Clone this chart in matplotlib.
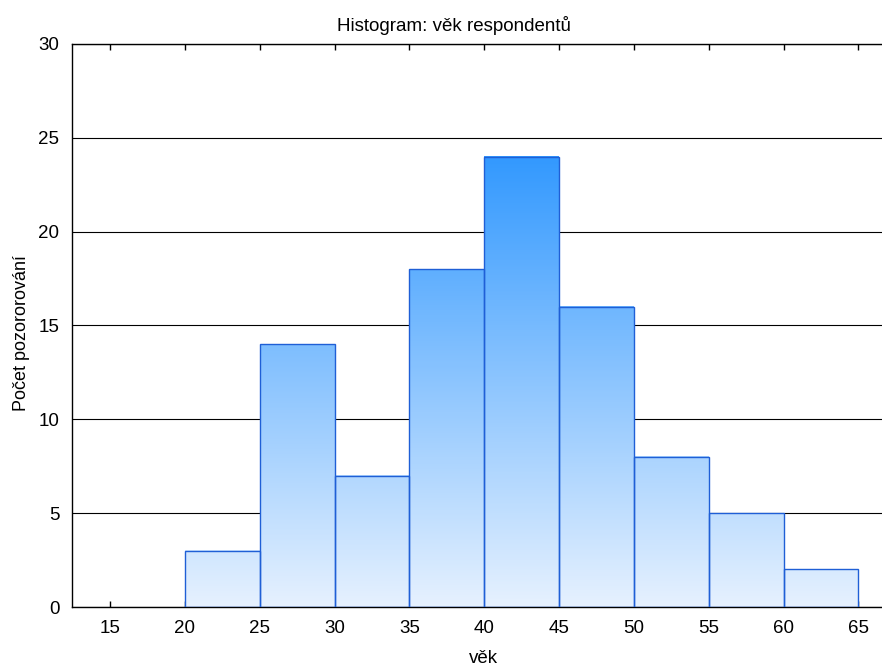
import numpy as np
import matplotlib
matplotlib.use('Agg')
import matplotlib.pyplot as plt
from matplotlib.colors import LinearSegmentedColormap

plt.rcParams['font.family'] = ['Liberation Sans', 'DejaVu Sans']

# histogram data: bin edges and counts
bin_edges = [20, 25, 30, 35, 40, 45, 50, 55, 60, 65]
counts = [3, 14, 7, 18, 24, 16, 8, 5, 2]
xticks = [15, 20, 25, 30, 35, 40, 45, 50, 55, 60, 65]
yticks = [0, 5, 10, 15, 20, 25, 30]

fig = plt.figure(figsize=(8.82, 6.68), dpi=100)
ax = fig.add_axes([0.0816, 0.0913, 0.918, 0.843])

cmap = LinearSegmentedColormap.from_list('blues', ['#e6f1fe', '#3399ff'])
top = max(counts)

for left, right, c in zip(bin_edges[:-1], bin_edges[1:], counts):
    grad = np.linspace(0, c / top, 200).reshape(-1, 1)
    ax.imshow(grad, extent=(left, right, 0, c), origin='lower', cmap=cmap,
              vmin=0, vmax=1, aspect='auto', zorder=2, interpolation='bilinear')
    ax.bar(left, c, width=right - left, align='edge', facecolor='none',
           edgecolor='#1f5fd6', linewidth=1.0, zorder=3)

ax.set_xlim(12.45, 66.55)
ax.set_ylim(0, 30)
ax.set_xticks(xticks)
ax.set_yticks(yticks)
ax.yaxis.grid(True, color='black', linewidth=0.8, zorder=0)
ax.set_axisbelow(True)

ax.spines['right'].set_visible(False)
for s in ['left', 'top', 'bottom']:
    ax.spines[s].set_linewidth(1.0)

ax.tick_params(axis='x', direction='in', top=True, length=4, width=1,
               labelsize=13.5, pad=9)
ax.tick_params(axis='y', length=0, labelsize=13.5, pad=9)

ax.set_title('Histogram: věk respondentů', fontsize=13.5, pad=9, x=0.472)
ax.set_xlabel('věk', fontsize=13.5, labelpad=10)
ax.xaxis.label.set_x(0.508)
ax.set_ylabel('Počet pozororování', fontsize=13, labelpad=6)
ax.yaxis.label.set_y(0.487)

plt.savefig('out.png', dpi=100)
